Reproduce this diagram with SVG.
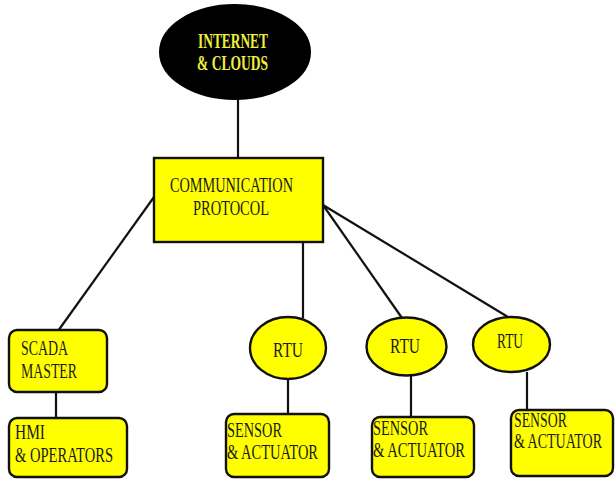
<svg xmlns="http://www.w3.org/2000/svg" width="615" height="479" viewBox="0 0 615 479">
<style>
.box{fill:#ffff00;stroke:#111;stroke-width:2.4}
.conn line{stroke:#111;stroke-width:2.2}
text{font-family:"Liberation Serif","Times New Roman",serif;font-size:20px;fill:#1a1a1a}
.w{fill:#f0ef3a;font-weight:bold}
</style>
<rect width="615" height="479" fill="#ffffff"/>
<g class="conn">
<line x1="238" y1="98" x2="238" y2="158"/>
<line x1="154" y1="197" x2="58" y2="331"/>
<line x1="56" y1="392" x2="56" y2="418"/>
<line x1="303" y1="242" x2="303" y2="318"/>
<line x1="323" y1="205" x2="402" y2="318"/>
<line x1="323" y1="205" x2="508" y2="317"/>
<line x1="288" y1="379" x2="288" y2="414"/>
<line x1="411" y1="375" x2="411" y2="417"/>
<line x1="527" y1="372" x2="527" y2="410"/>
</g>
<g id="internet">
<ellipse cx="235" cy="52" rx="75" ry="47" fill="#000" stroke="#000" stroke-width="2"/>
<text class="w" x="198" y="48" textLength="70" lengthAdjust="spacingAndGlyphs">INTERNET</text>
<text class="w" x="197" y="70" textLength="71" lengthAdjust="spacingAndGlyphs">&amp; CLOUDS</text>
</g>
<g id="protocol">
<rect class="box" x="154" y="158" width="169" height="84"/>
<text x="170" y="192" textLength="123" lengthAdjust="spacingAndGlyphs">COMMUNICATION</text>
<text x="193" y="215" textLength="76" lengthAdjust="spacingAndGlyphs">PROTOCOL</text>
</g>
<g id="scada">
<rect class="box" x="9" y="330" width="98" height="62" rx="8"/>
<text x="21" y="355" textLength="47" lengthAdjust="spacingAndGlyphs">SCADA</text>
<text x="21" y="378" textLength="56" lengthAdjust="spacingAndGlyphs">MASTER</text>
</g>
<g id="hmi">
<rect class="box" x="9" y="418" width="118" height="59" rx="8"/>
<text x="15" y="439" textLength="30" lengthAdjust="spacingAndGlyphs">HMI</text>
<text x="15" y="462" textLength="98" lengthAdjust="spacingAndGlyphs">&amp; OPERATORS</text>
</g>
<g id="rtu1">
<ellipse class="box" cx="288" cy="348" rx="38" ry="31"/>
<text x="273" y="357" textLength="30" lengthAdjust="spacingAndGlyphs">RTU</text>
</g>
<g id="rtu2">
<ellipse class="box" cx="406.5" cy="346.5" rx="40" ry="29"/>
<text x="390" y="353" textLength="30" lengthAdjust="spacingAndGlyphs">RTU</text>
</g>
<g id="rtu3">
<ellipse class="box" cx="511.5" cy="344.5" rx="38.5" ry="27.5"/>
<text x="497" y="348" textLength="26" lengthAdjust="spacingAndGlyphs">RTU</text>
</g>
<g id="sensor1">
<rect class="box" x="226" y="414" width="103" height="63" rx="8"/>
<text x="227" y="437" textLength="55" lengthAdjust="spacingAndGlyphs">SENSOR</text>
<text x="227" y="459" textLength="91" lengthAdjust="spacingAndGlyphs">&amp; ACTUATOR</text>
</g>
<g id="sensor2">
<rect class="box" x="372" y="417" width="102" height="60" rx="8"/>
<text x="373" y="435" textLength="55" lengthAdjust="spacingAndGlyphs">SENSOR</text>
<text x="373" y="457" textLength="92" lengthAdjust="spacingAndGlyphs">&amp; ACTUATOR</text>
</g>
<g id="sensor3">
<rect class="box" x="511" y="410" width="102" height="66" rx="8"/>
<text transform="translate(514,427) scale(0.69,1)" x="0" y="0">SENSOR</text>
<text transform="translate(514,448) scale(0.70,1)" x="0" y="0">&amp; ACTUATOR</text>
</g>
</svg>
